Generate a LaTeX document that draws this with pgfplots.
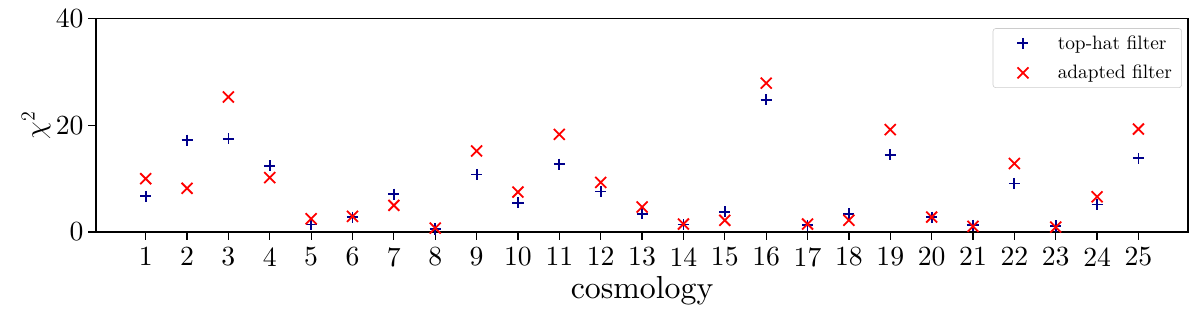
\documentclass[border=0pt]{standalone}
\usepackage{pgfplots}
\pgfplotsset{compat=1.18}
\definecolor{dblue}{RGB}{0,0,139}
\font\tickfont="[lmroman10-regular]:mapping=tex-text" at 20pt
\font\labfont="[lmroman10-regular]:mapping=tex-text" at 23pt
\font\legfont="[lmroman10-regular]:mapping=tex-text" at 14pt
\begin{document}
\begin{tikzpicture}
\begin{axis}[
  name=ax,
  at={(0,0)}, anchor=south west,
  scale only axis,
  width=789.2pt, height=154.3pt,
  xmin=-0.2, xmax=26.2, ymin=0, ymax=40,
  xtick={1,...,25}, ytick={0,20,40},
  tick align=outside, major tick length=5.5pt,
  xtick pos=bottom, ytick pos=left,
  tick style={line width=0.9pt, black},
  axis line style={line width=0.9pt},
  /pgf/number format/assume math mode=true,
  ticklabel style={font=\tickfont},
  xticklabel style={yshift=-2pt},
  xlabel={\labfont cosmology}, ylabel={$\chi^2$},
  ylabel style={font=\fontsize{20}{24}\selectfont, yshift=-3pt},
  xlabel style={yshift=0pt},
  legend style={at={(1,1)}, xshift=-4.5pt, yshift=-7pt, anchor=north east,
    draw=black!20, rounded corners=2pt, font=\legfont,
    row sep=6pt, inner xsep=5pt, inner ysep=3pt},
  legend cell align=left,
  legend image code/.code={\path (0pt,0pt) (38.5pt,0pt); \draw[#1] plot coordinates {(16pt,0pt)};},
]
\addplot[only marks, mark=+, mark size=4pt, dblue, line width=1.3pt] coordinates {
(1,6.7) (2,17.2) (3,17.5) (4,12.4) (5,1.4) (6,2.8) (7,7.1) (8,0.57) (9,10.8) (10,5.5)
(11,12.7) (12,7.6) (13,3.45) (14,1.4) (15,3.8) (16,24.8) (17,1.26) (18,3.45) (19,14.5) (20,2.76)
(21,1.26) (22,9.1) (23,1.13) (24,5.15) (25,13.8)};
\addlegendentry{top-hat filter}
\addplot[only marks, mark=x, mark size=5.6pt, red, line width=1.3pt] coordinates {
(1,10.0) (2,8.2) (3,25.3) (4,10.2) (5,2.5) (6,2.95) (7,5.0) (8,0.75) (9,15.2) (10,7.5)
(11,18.3) (12,9.3) (13,4.7) (14,1.5) (15,2.2) (16,27.9) (17,1.5) (18,2.2) (19,19.2) (20,2.8)
(21,1.07) (22,12.85) (23,0.94) (24,6.6) (25,19.3)};
\addlegendentry{adapted filter}
\end{axis}
\pgfresetboundingbox
\path[use as bounding box] (-69.4pt,-60pt) rectangle (797.8pt,167.7pt);
\end{tikzpicture}
\end{document}
